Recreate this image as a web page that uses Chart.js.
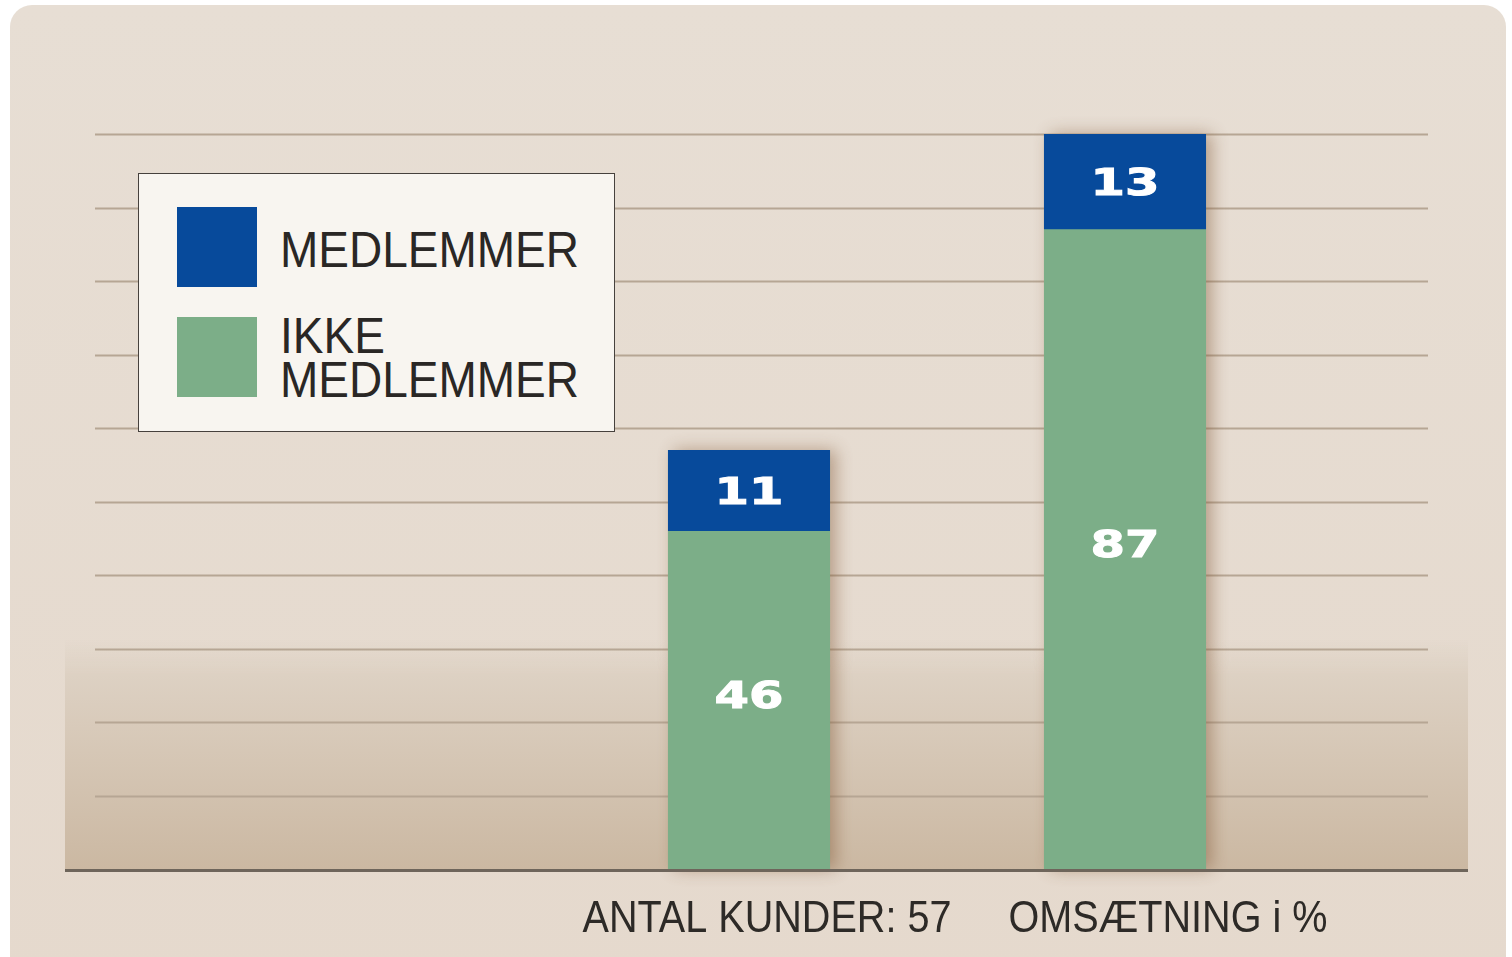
<!DOCTYPE html>
<html>
<head>
<meta charset="utf-8">
<title>Medlemmer</title>
<script src="https://cdn.jsdelivr.net/npm/chart.js@4.4.1/dist/chart.umd.min.js"></script>
<style>
  html, body { margin: 0; padding: 0; background: #fff; }
  #wrap { position: relative; width: 1512px; height: 957px; overflow: hidden; }
  #panel {
    position: absolute; left: 10px; top: 5px; width: 1496px; height: 980px;
    border-radius: 22px;
    background: linear-gradient(#e7ded4, #e5d9cd);
  }
  #chart { position: absolute; left: 0; top: 0; }
  #legend {
    position: absolute; left: 138px; top: 173px; width: 475px; height: 257px;
    background: #f8f5f0; border: 1.5px solid #46413d;
  }
  .swatch { position: absolute; left: 38px; width: 80px; height: 80px; }
  .label {
    position: absolute; left: 141px; width: 340px;
    font: 50px "Liberation Sans", Arial, sans-serif; line-height: 44px;
    color: #2a2725; transform: scaleX(0.92); transform-origin: left top;
  }
</style>
</head>
<body>
<div id="wrap">
  <div id="panel"></div>
  <canvas id="chart" width="1512" height="957"></canvas>
  <div id="legend"></div>
</div>
<script>
// data
const categories = ['ANTAL KUNDER: 57', 'OMSÆTNING i %'];
const seriesNames = ['IKKE MEDLEMMER', 'MEDLEMMER'];
const ikkeMedlemmer = [46, 87];
const medlemmer = [11, 13];
const yTicks = [10, 20, 30, 40, 50, 60, 70, 80, 90, 100];

const colors = ['#7cae88', '#074a9b'];

// background band, grid lines and the soft shadow behind each stack
const backdrop = {
    id: 'backdrop',
    beforeDatasetsDraw(chart) {
        const { ctx, scales: { y } } = chart;
        const base = y.getPixelForValue(0);

        ctx.save();
        const grad = ctx.createLinearGradient(0, 640, 0, base);
        grad.addColorStop(0, 'rgba(221, 209, 195, 0)');
        grad.addColorStop(0.15, '#ddd1c3');
        grad.addColorStop(1, '#cbb8a2');
        ctx.fillStyle = grad;
        ctx.fillRect(65, 640, 1403, base - 640);

        ctx.strokeStyle = '#b6a694';
        ctx.lineWidth = 2;
        yTicks.forEach(t => {
            const py = Math.round(y.getPixelForValue(t)) + 0.5;
            ctx.beginPath();
            ctx.moveTo(95, py);
            ctx.lineTo(1428, py);
            ctx.stroke();
        });

        const bottom = chart.getDatasetMeta(0).data;
        const top = chart.getDatasetMeta(1).data;
        ctx.shadowColor = 'rgba(125, 80, 45, 0.45)';
        ctx.shadowBlur = 16;
        ctx.shadowOffsetX = 6;
        ctx.fillStyle = colors[0];
        bottom.forEach((el, i) => {
            const t = top[i].y;
            ctx.fillRect(el.x - el.width / 2, t, el.width, el.base - t);
        });
        ctx.restore();
    },
    afterDatasetsDraw(chart) {
        const { ctx, scales: { x, y } } = chart;
        const base = y.getPixelForValue(0);

        ctx.save();
        ctx.fillStyle = '#6e655b';
        ctx.fillRect(65, base, 1403, 3);

        // value labels inside the segments
        ctx.fillStyle = '#ffffff';
        ctx.strokeStyle = '#ffffff';
        ctx.lineWidth = 1;
        ctx.font = 'bold 37px "DejaVu Sans", sans-serif';
        ctx.textAlign = 'center';
        ctx.textBaseline = 'middle';
        const nudge = [-2, 4];
        chart.data.datasets.forEach((ds, d) => {
            chart.getDatasetMeta(d).data.forEach((el, i) => {
                ctx.save();
                ctx.translate(el.x, (el.y + el.base) / 2 + nudge[d]);
                ctx.scale(1.34, 1);
                ctx.fillText(String(ds.data[i]), 0, 0);
                ctx.strokeText(String(ds.data[i]), 0, 0);
                ctx.restore();
            });
        });

        // category labels under the axis
        ctx.fillStyle = '#2d2a27';
        ctx.font = '45px "Liberation Sans", Arial, sans-serif';
        ctx.textBaseline = 'alphabetic';
        const shift = [18, 43];
        categories.forEach((c, i) => {
            ctx.save();
            ctx.translate(x.getPixelForValue(i) + shift[i], base + 63);
            ctx.scale(0.88, 1);
            ctx.fillText(c, 0, 0);
            ctx.restore();
        });
        ctx.restore();
    }
};

const chart = new Chart(document.getElementById('chart'), {
    type: 'bar',
    data: {
        labels: categories,
        datasets: [
            { label: seriesNames[0], data: ikkeMedlemmer, backgroundColor: colors[0] },
            { label: seriesNames[1], data: medlemmer, backgroundColor: colors[1] }
        ]
    },
    options: {
        responsive: false,
        animation: false,
        layout: { padding: { left: 561, right: 199, top: 134, bottom: 88 } },
        datasets: { bar: { barPercentage: 0.431, categoryPercentage: 1, borderWidth: 0 } },
        scales: {
            x: { stacked: true, display: false },
            y: { stacked: true, display: false, min: 0, max: 100 }
        },
        plugins: { legend: { display: false }, tooltip: { enabled: false } }
    },
    plugins: [backdrop]
});

// html legend, blue series first like the original
const legend = document.getElementById('legend');
const slots = [{ box: 33, text: 54 }, { box: 143, text: 140 }];
chart.data.datasets.slice().reverse().forEach((ds, k) => {
    const sw = document.createElement('div');
    sw.className = 'swatch';
    sw.style.top = slots[k].box + 'px';
    sw.style.background = ds.backgroundColor;
    legend.appendChild(sw);

    const tx = document.createElement('div');
    tx.className = 'label';
    tx.style.top = slots[k].text + 'px';
    tx.textContent = ds.label;
    legend.appendChild(tx);
});
</script>
</body>
</html>
